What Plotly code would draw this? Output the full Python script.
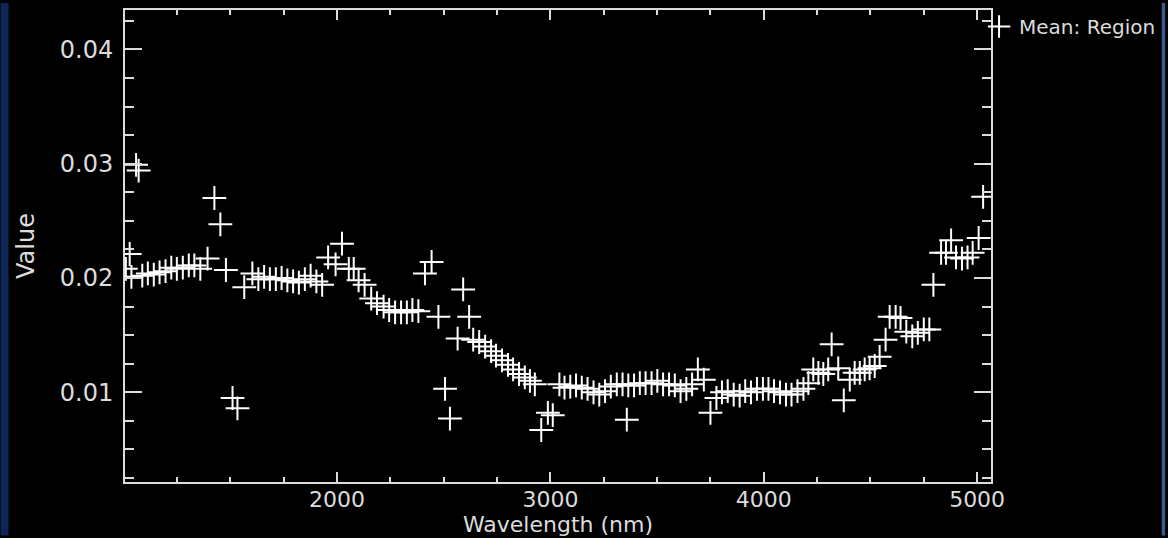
import plotly.graph_objects as go

# Mean spectrum of the region: band centre wavelengths (nm) and mean values
wavelength_nm = [
    1010, 1028, 1036, 1058, 1070, 1087, 1113, 1141, 1168, 1196,
    1223, 1249, 1277, 1305, 1331, 1359, 1393, 1425, 1453, 1479,
    1510, 1533, 1565, 1603, 1631, 1658, 1685, 1713, 1740, 1767,
    1794, 1821, 1849, 1876, 1903, 1930, 1958, 1993, 2023, 2055,
    2078, 2101, 2129, 2160, 2187, 2218, 2244, 2272, 2300, 2327,
    2353, 2381, 2412, 2443, 2475, 2506, 2529, 2565, 2591, 2619,
    2638, 2666, 2694, 2722, 2745, 2773, 2801, 2825, 2853, 2880,
    2904, 2927, 2957, 2988, 3011, 3042, 3066, 3093, 3120, 3147,
    3174, 3202, 3229, 3256, 3283, 3311, 3338, 3358, 3365, 3392,
    3419, 3446, 3474, 3501, 3528, 3556, 3583, 3610, 3637, 3664,
    3691, 3719, 3750, 3778, 3804, 3831, 3859, 3887, 3913, 3940,
    3968, 3996, 4022, 4048, 4076, 4104, 4130, 4158, 4186, 4209,
    4232, 4256, 4279, 4302, 4318, 4349, 4375, 4403, 4426, 4450,
    4473, 4496, 4520, 4543, 4571, 4590, 4618, 4641, 4668, 4696,
    4722, 4750, 4776, 4795, 4831, 4854, 4878, 4901, 4929, 4955,
    4979, 5007, 5028,
]

mean_value = [
    0.0208, 0.0221, 0.0201, 0.0299, 0.0294, 0.0202, 0.0204, 0.0203, 0.0205, 0.0206,
    0.0209, 0.0208, 0.0209, 0.0211, 0.0211, 0.0208, 0.0217, 0.0270, 0.0247, 0.0207,
    0.0095, 0.0086, 0.0192, 0.0204, 0.0199, 0.0201, 0.0199, 0.0199, 0.0200, 0.0198,
    0.0197, 0.0196, 0.0199, 0.0202, 0.0197, 0.0194, 0.0218, 0.0212, 0.0230, 0.0208,
    0.0208, 0.0198, 0.0194, 0.0182, 0.0178, 0.0175, 0.0172, 0.0170, 0.0170, 0.0170,
    0.0172, 0.0171, 0.0204, 0.0214, 0.0166, 0.0103, 0.0077, 0.0147, 0.0190, 0.0166,
    0.0146, 0.0144, 0.0140, 0.0136, 0.0132, 0.0128, 0.0124, 0.0120, 0.0116, 0.0113,
    0.0110, 0.0107, 0.0067, 0.0082, 0.0080, 0.0107, 0.0104, 0.0105, 0.0106, 0.0104,
    0.0103, 0.0100, 0.0098, 0.0101, 0.0105, 0.0107, 0.0107, 0.0076, 0.0106, 0.0106,
    0.0108, 0.0108, 0.0108, 0.0110, 0.0107, 0.0107, 0.0106, 0.0101, 0.0103, 0.0107,
    0.0120, 0.0111, 0.0082, 0.0095, 0.0100, 0.0101, 0.0098, 0.0097, 0.0101, 0.0100,
    0.0103, 0.0103, 0.0103, 0.0101, 0.0100, 0.0098, 0.0098, 0.0101, 0.0103, 0.0108,
    0.0120, 0.0117, 0.0116, 0.0120, 0.0142, 0.0121, 0.0093, 0.0111, 0.0117, 0.0117,
    0.0120, 0.0121, 0.0123, 0.0131, 0.0146, 0.0166, 0.0166, 0.0165, 0.0153, 0.0149,
    0.0152, 0.0155, 0.0155, 0.0194, 0.0222, 0.0222, 0.0233, 0.0218, 0.0217, 0.0218,
    0.0222, 0.0235, 0.0271,
]

x_range = [1006, 5065]
y_range = [0.00215, 0.04345]
x_major_step = 1000
x_minor_step = 250
y_major_step = 0.01
y_minor_step = 0.0025

FG = "#dcdcdc"
FONT = "DejaVu Sans"

fig = go.Figure(
    go.Scatter(
        x=wavelength_nm,
        y=mean_value,
        mode="markers",
        name="Mean: Region",
        marker=dict(symbol="cross-thin", size=17, color="white",
                    line=dict(color="white", width=2)),
        cliponaxis=True,
    )
)

axis_common = dict(
    showgrid=False,
    zeroline=False,
    showline=True,
    linecolor=FG,
    linewidth=2,
    mirror="ticks",
    ticks="inside",
    tickcolor=FG,
    tickwidth=1.5,
    tickmode="linear",
    tick0=0,
)

fig.update_layout(
    width=1168,
    height=538,
    margin=dict(l=125, r=173, t=7, b=54, pad=0),
    paper_bgcolor="black",
    plot_bgcolor="black",
    font=dict(family=FONT, color=FG),
    xaxis=dict(
        **axis_common,
        range=x_range,
        dtick=x_major_step,
        ticklen=10,
        tickfont=dict(family=FONT, size=22, color=FG),
        ticklabelstandoff=-3,
        minor=dict(dtick=x_minor_step, tick0=0, ticklen=5, tickwidth=1.5,
                   tickcolor=FG, ticks="inside"),
        title=dict(text="Wavelength (nm)", standoff=3,
                   font=dict(family=FONT, size=22, color=FG)),
    ),
    yaxis=dict(
        **axis_common,
        range=y_range,
        dtick=y_major_step,
        tickformat=".2f",
        ticklen=17,
        ticklabelstandoff=5,
        tickfont=dict(family=FONT, size=24, color=FG),
        minor=dict(dtick=y_minor_step, tick0=0, ticklen=9, tickwidth=1.5,
                   tickcolor=FG, ticks="inside"),
        title=dict(text="Value", standoff=18,
                   font=dict(family=FONT, size=24, color=FG)),
    ),
    showlegend=True,
    legend=dict(
        x=(983 - 125) / 870, xanchor="left",
        y=1.0 + 3 / 477, yanchor="top",
        bgcolor="rgba(0,0,0,0)",
        font=dict(family=FONT, size=20, color=FG),
        itemsizing="trace",
    ),
    shapes=[
        # desktop edges visible around the plot window
        dict(type="rect", xref="paper", yref="paper",
             x0=-125 / 870, x1=-117 / 870, y0=-54 / 477, y1=1 + 7 / 477,
             fillcolor="#0e2656", line=dict(width=0), layer="below"),
        dict(type="rect", xref="paper", yref="paper",
             x0=(1166.5 - 125) / 870, x1=(1170 - 125) / 870,
             y0=-54 / 477, y1=1 + 7 / 477,
             fillcolor="#3a5a8e", line=dict(width=0), layer="below"),
    ],
)

fig.write_html("out.html")
